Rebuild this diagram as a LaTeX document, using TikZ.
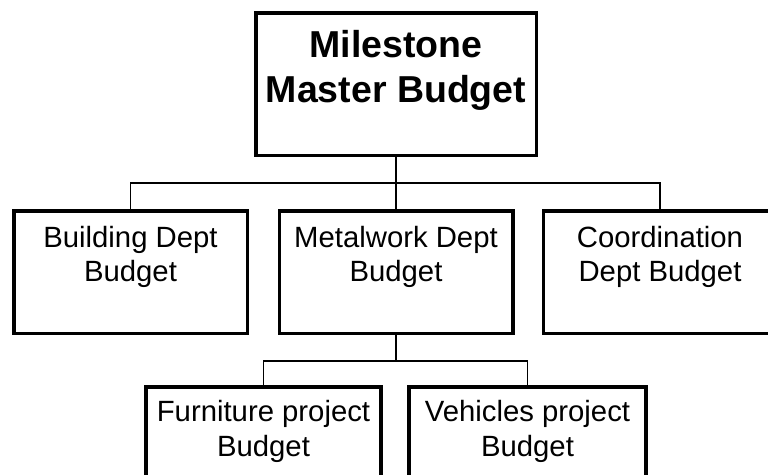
\documentclass[tikz,border=0pt]{standalone}
\usepackage{fontspec}
\setmainfont{Liberation Sans}
\usetikzlibrary{calc}
\begin{document}
\begin{tikzpicture}[x=1pt,y=-1pt,
  box/.style={draw=black,line width=3.5pt,fill=white,inner sep=0pt},
  wire/.style={draw=black,line width=1.2pt},
  lbl/.style={align=center,inner sep=0pt,font=\fontsize{29.3}{34.7}\selectfont},
  ttl/.style={align=center,inner sep=0pt,font=\fontsize{37.5}{45}\selectfont\bfseries}]
\useasboundingbox (0,0) rectangle (768,474);
\fill[white] (0,0) rectangle (768,474);
% boxes
\node[box,minimum width=280.5pt,minimum height=142.5pt] (top) at (396,84) {};
\node[box,minimum width=233.5pt,minimum height=122.5pt] (b1) at (130.5,272) {};
\node[box,minimum width=233.5pt,minimum height=122.5pt] (b2) at (396,272) {};
\node[box,minimum width=233.5pt,minimum height=122.5pt] (b3) at (660,272) {};
\node[box,minimum width=235pt,minimum height=122.5pt] (c1) at (263.5,448.25) {};
\node[box,minimum width=237pt,minimum height=122.5pt] (c2) at (527.5,448.25) {};
% junctions
\coordinate (j1) at (396,183);
\coordinate (j2) at (396,361);
% connectors
\draw[wire] (top.south) -- (j1);
\draw[wire] (b1.north) |- (j1) -| (b3.north);
\draw[wire] (j1) -- (b2.north);
\draw[wire] (b2.south) -- (j2);
\draw[wire] (c1.north) |- (j2) -| (c2.north);
% labels (base = baseline of last line)
\node[ttl,anchor=base] (ttop) at ($(top.north)+(0,91)$) {Milestone\\Master Budget};
\node[lbl,anchor=base] (t1) at ($(b1.north)+(0,72.7)$) {Building Dept\\Budget};
\node[lbl,anchor=base] (t2) at ($(b2.north)+(0,72.7)$) {Metalwork Dept\\Budget};
\node[lbl,anchor=base] (t3) at ($(b3.north)+(0,72.7)$) {Coordination\\Dept Budget};
\node[lbl,anchor=base] (u1) at ($(c1.north)+(0,71.4)$) {Furniture project\\Budget};
\node[lbl,anchor=base] (u2) at ($(c2.north)+(0,71.4)$) {Vehicles project\\Budget};
\end{tikzpicture}
\end{document}
